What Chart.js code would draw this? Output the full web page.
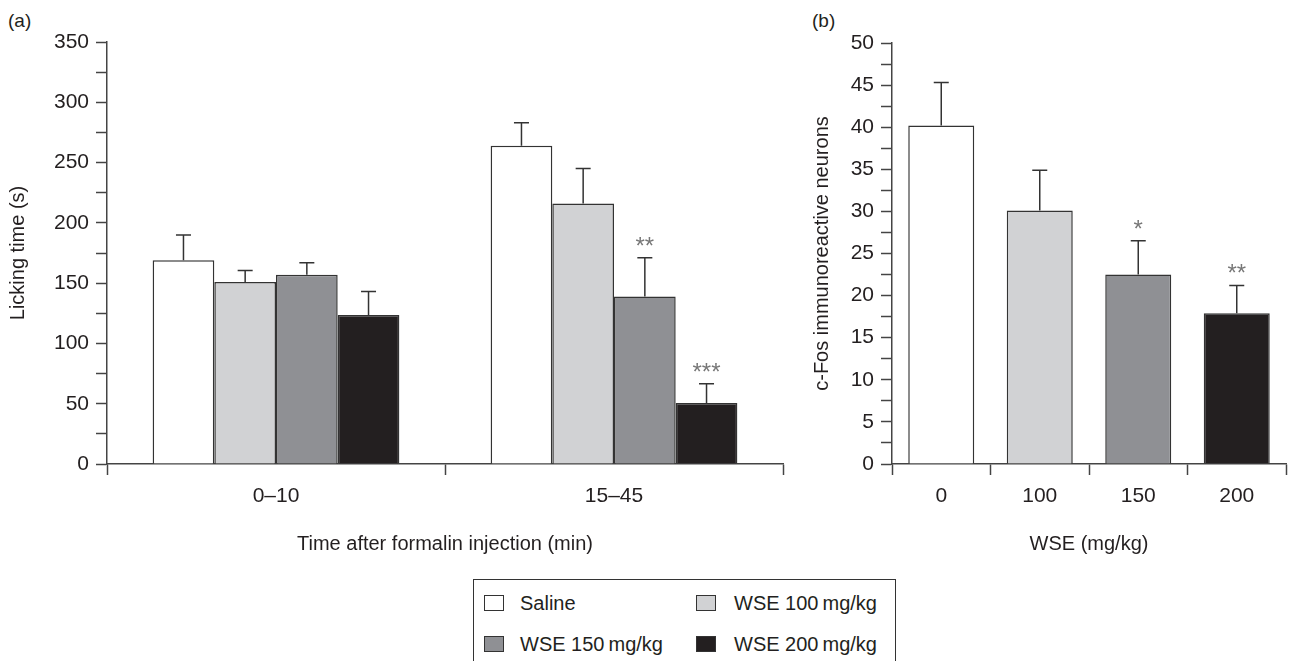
<!DOCTYPE html>
<html>
<head>
<meta charset="utf-8">
<script src="https://cdn.jsdelivr.net/npm/chart.js@4.4.0/dist/chart.umd.min.js"></script>
<style>
  body { margin: 0; background: #fff; width: 1289px; height: 661px; overflow: hidden; position: relative;
         font-family: "Liberation Sans", Arial, sans-serif; color: #231f20; }
  #wrapA { position: absolute; left: 0; top: 0; }
  #wrapB { position: absolute; left: 790px; top: 0; }
  .panel { position: absolute; top: 10px; font-size: 19px; }
  #legend { position: absolute; left: 473px; top: 579px; width: 423px; height: 100px;
            border: 1.5px solid #333; box-sizing: border-box; }
  .item { position: absolute; font-size: 20px; line-height: 22px; white-space: nowrap; }
  .sw { position: absolute; width: 20px; height: 16px; border: 1.5px solid #333; box-sizing: border-box; }
</style>
</head>
<body>
<div class="panel" style="left:8px">(a)</div>
<div class="panel" style="left:812px">(b)</div>
<div id="wrapA"><canvas id="chartA" width="800" height="570"></canvas></div>
<div id="wrapB"><canvas id="chartB" width="499" height="570"></canvas></div>
<div id="legend"></div>
<script>
// panel (a): licking time
var groups = ['0\u201310', '15\u201345'];
var saline = [169, 264];
var salineSem = [21, 19];
var wse100 = [151, 216];
var wse100Sem = [9.5, 29];
var wse150 = [157, 139];
var wse150Sem = [10, 32];
var wse200 = [123.5, 50.5];
var wse200Sem = [19.5, 16];
var starsA = [['', ''], ['', ''], ['', '**'], ['', '***']];
var yTicksA = [0, 50, 100, 150, 200, 250, 300, 350];

// panel (b): c-Fos
var doses = ['0', '100', '150', '200'];
var cfos = [40.2, 30.1, 22.5, 17.9];
var cfosSem = [5.1, 4.8, 4.0, 3.3];
var starsB = ['', '', '*', '**'];
var yTicksB = [0, 5, 10, 15, 20, 25, 30, 35, 40, 45, 50];

var seriesNames = ['Saline', 'WSE 100\u2009mg/kg', 'WSE 150\u2009mg/kg', 'WSE 200\u2009mg/kg'];
var fills = ['#ffffff', '#d1d2d4', '#8f9094', '#231f20'];

var ink = '#231f20';
var axisCol = '#444';
var tickFont = { family: '"Liberation Sans", Arial, sans-serif', size: 21, lineHeight: 1.2 };
var titleFont = { family: '"Liberation Sans", Arial, sans-serif', size: 20, lineHeight: 1.2 };

// draws the upper error bar and the significance stars
var errorBars = {
  id: 'errorBars',
  afterDatasetsDraw: function (chart) {
    var ctx = chart.ctx, y = chart.scales.y;
    chart.data.datasets.forEach(function (ds, i) {
      var meta = chart.getDatasetMeta(i);
      meta.data.forEach(function (bar, j) {
        var top = y.getPixelForValue(ds.data[j] + ds.sem[j]);
        ctx.save();
        ctx.strokeStyle = '#333';
        ctx.lineWidth = 1.5;
        ctx.beginPath();
        ctx.moveTo(bar.x, bar.y);
        ctx.lineTo(bar.x, top);
        ctx.moveTo(bar.x - 7.5, top);
        ctx.lineTo(bar.x + 7.5, top);
        ctx.stroke();
        if (ds.stars && ds.stars[j]) {
          ctx.fillStyle = '#777';
          ctx.font = '24px "Liberation Sans", Arial, sans-serif';
          ctx.textAlign = 'center';
          ctx.textBaseline = 'alphabetic';
          ctx.fillText(ds.stars[j], bar.x, top - 4);
        }
        ctx.restore();
      });
    });
  }
};

function axisOpts(extra) {
  var o = {
    border: { color: axisCol, width: 1.5 },
    grid: { drawOnChartArea: false, tickLength: 11, tickColor: axisCol, tickWidth: 1.5 },
    ticks: { color: ink, font: tickFont }
  };
  for (var k in extra) o[k] = extra[k];
  return o;
}

var setsA = [saline, wse100, wse150, wse200];
var semsA = [salineSem, wse100Sem, wse150Sem, wse200Sem];

new Chart(document.getElementById('chartA').getContext('2d'), {
  type: 'bar',
  data: {
    labels: groups,
    datasets: setsA.map(function (d, i) {
      return {
        label: seriesNames[i],
        data: d,
        sem: semsA[i],
        stars: starsA[i],
        backgroundColor: fills[i],
        borderColor: '#333',
        borderWidth: 1.5,
        categoryPercentage: 0.73,
        barPercentage: 1
      };
    })
  },
  options: {
    responsive: false,
    animation: false,
    layout: { padding: { left: 0, right: 17, top: 42, bottom: 14 } },
    plugins: { legend: { display: false }, tooltip: { enabled: false } },
    scales: {
      x: axisOpts({
        grid: { offset: true, drawOnChartArea: false, tickLength: 11, tickColor: axisCol, tickWidth: 1.5 },
        ticks: { color: ink, font: tickFont, padding: 9 },
        title: { display: true, text: 'Time after formalin injection (min)', color: ink, font: titleFont, padding: { top: 0, bottom: 0 } },
        afterFit: function (s) { s.height = 92; }
      }),
      y: axisOpts({
        min: 0,
        max: 350,
        afterBuildTicks: function (s) {
          var t = [];
          for (var v = 0; v <= 350; v += 25) t.push({ value: v });
          s.ticks = t;
        },
        ticks: {
          color: ink, font: tickFont, padding: 7, autoSkip: false,
          callback: function (v) { return yTicksA.indexOf(v) >= 0 ? v : ''; }
        },
        title: { display: true, text: 'Licking time (s)', color: ink, font: titleFont, padding: { top: 6, bottom: 0 } },
        afterFit: function (s) { s.width = 107; }
      })
    }
  },
  plugins: [errorBars]
});

new Chart(document.getElementById('chartB').getContext('2d'), {
  type: 'bar',
  data: {
    labels: doses,
    datasets: [{
      label: 'c-Fos',
      data: cfos,
      sem: cfosSem,
      stars: starsB,
      backgroundColor: fills,
      borderColor: '#333',
      borderWidth: 1.5,
      categoryPercentage: 0.67,
      barPercentage: 1
    }]
  },
  options: {
    responsive: false,
    animation: false,
    layout: { padding: { left: 0, right: 3, top: 43, bottom: 14 } },
    plugins: { legend: { display: false }, tooltip: { enabled: false } },
    scales: {
      x: axisOpts({
        grid: { offset: true, drawOnChartArea: false, tickLength: 11, tickColor: axisCol, tickWidth: 1.5 },
        ticks: { color: ink, font: tickFont, padding: 9 },
        title: { display: true, text: 'WSE (mg/kg)', color: ink, font: titleFont, padding: { top: 0, bottom: 0 } },
        afterFit: function (s) { s.height = 92; }
      }),
      y: axisOpts({
        min: 0,
        max: 50,
        afterBuildTicks: function (s) {
          var t = [];
          for (var v = 0; v <= 50; v += 2.5) t.push({ value: v });
          s.ticks = t;
        },
        ticks: {
          color: ink, font: tickFont, padding: 7, autoSkip: false,
          callback: function (v) { return yTicksB.indexOf(v) >= 0 ? v : ''; }
        },
        title: { display: true, text: 'c-Fos immunoreactive neurons', color: ink, font: titleFont, padding: { top: 20, bottom: 0 } },
        afterFit: function (s) { s.width = 102; }
      })
    }
  },
  plugins: [errorBars]
});

// shared legend below the panels
var legend = document.getElementById('legend');
var spots = [[10, 46, 12], [222, 260, 12], [10, 46, 53], [222, 260, 53]];
seriesNames.forEach(function (name, i) {
  var sw = document.createElement('div');
  sw.className = 'sw';
  sw.style.left = spots[i][0] + 'px';
  sw.style.top = (spots[i][2] + 3) + 'px';
  sw.style.background = fills[i];
  legend.appendChild(sw);
  var tx = document.createElement('div');
  tx.className = 'item';
  tx.style.left = spots[i][1] + 'px';
  tx.style.top = spots[i][2] + 'px';
  tx.textContent = name;
  legend.appendChild(tx);
});
</script>
</body>
</html>
